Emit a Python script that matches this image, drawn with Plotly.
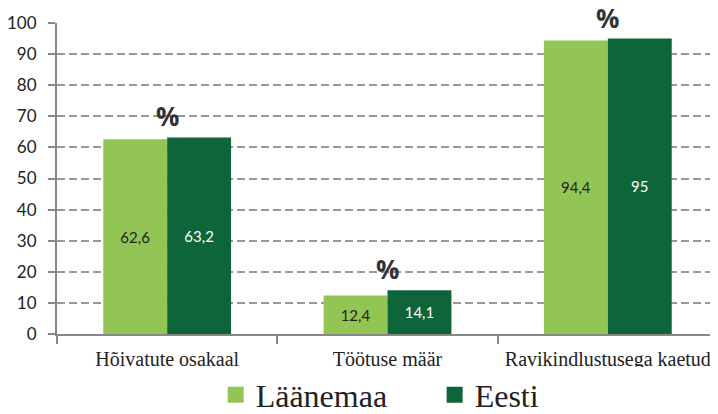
import plotly.graph_objects as go

categories = ["Hõivatute osakaal", "Töötuse määr", "Ravikindlustusega kaetud"]
laanemaa = [62.6, 12.4, 94.4]
eesti = [63.2, 14.1, 95]
series_names = ["Läänemaa", "Eesti"]
y_ticks = [0, 10, 20, 30, 40, 50, 60, 70, 80, 90, 100]
unit_label = "%"

LIGHT = "#92C553"
DARK = "#0F653A"

def fmt(v):
    s = ("%g" % v)
    return s.replace(".", ",")

fig = go.Figure()
fig.add_trace(go.Bar(
    x=categories, y=laanemaa, name=series_names[0], marker_color=LIGHT,
    marker_line_width=0,
    text=[fmt(v) for v in laanemaa], textposition="inside", insidetextanchor="middle",
    textfont=dict(family="Lato", size=15, color="#222222"), showlegend=False,
))
fig.add_trace(go.Bar(
    x=categories, y=eesti, name=series_names[1], marker_color=DARK,
    marker_line_width=0,
    text=[fmt(v) for v in eesti], textposition="inside", insidetextanchor="middle",
    textfont=dict(family="Lato", size=15, color="#FFFFFF"), showlegend=False,
))
# legend proxies with large square markers
for name, col in zip(series_names, [LIGHT, DARK]):
    fig.add_trace(go.Scatter(x=[None], y=[None], mode="markers", name=name,
                             marker=dict(symbol="square", size=19, color=col)))

for c, a, b in zip(categories, laanemaa, eesti):
    fig.add_annotation(x=c, y=max(a, b), text="<b>%s</b>" % unit_label, showarrow=False,
                       yanchor="middle", yshift=21, borderpad=0, height=24, valign="middle",
                       font=dict(family="Open Sans", size=26, color="#333333"))

fig.update_layout(
    width=710, height=406,
    margin=dict(l=49, r=0, t=15, b=80, autoexpand=False),
    plot_bgcolor="white", paper_bgcolor="white",
    barmode="group", bargap=0.42, bargroupgap=0,
    legend=dict(orientation="h", x=0.24, xanchor="left", yref="container", y=0.047, yanchor="middle",
                font=dict(family="Liberation Serif", size=32, color="#222222"),
                itemwidth=30, entrywidth=174, entrywidthmode="pixels", tracegroupgap=0),
)
fig.update_xaxes(
    automargin=False,
    showline=True, linecolor="#888888", linewidth=2,
    ticks="outside", tickson="boundaries", ticklen=8, tickcolor="#888888", tickwidth=2,
    tickfont=dict(family="Liberation Serif", size=20, color="#222222"),
    ticklabelstandoff=6,
    showgrid=False,
)
fig.update_yaxes(
    automargin=False,
    range=[0, 100], tickvals=y_ticks,
    showline=True, linecolor="#888888", linewidth=2,
    ticks="outside", ticklen=7, tickcolor="#888888", tickwidth=2,
    tickfont=dict(family="Lato", size=17, color="#222222"),
    ticklabelstandoff=8,
    showgrid=True, gridcolor="#999999", griddash="8px,4px", gridwidth=1.5,
    zeroline=False,
)

fig.write_html("out.html")
